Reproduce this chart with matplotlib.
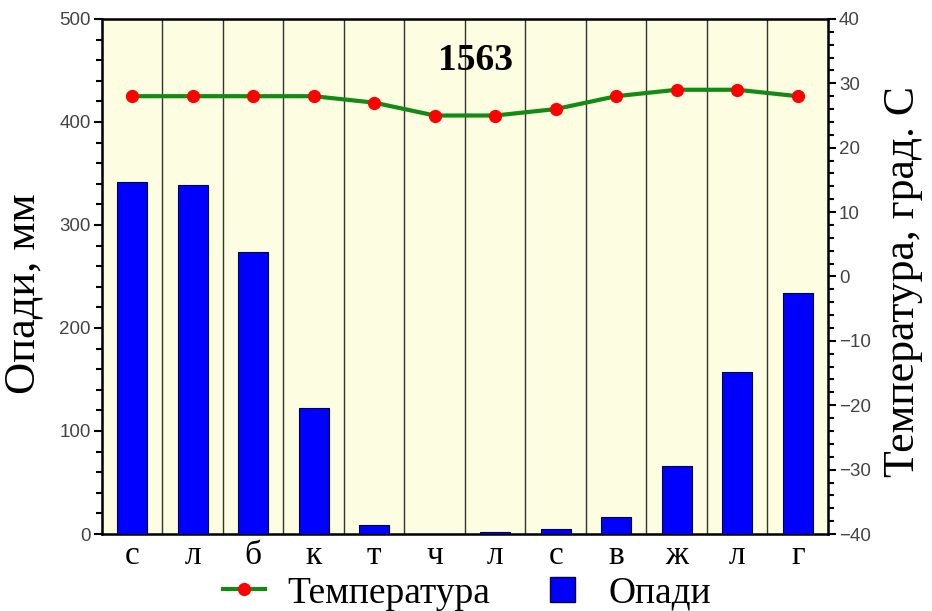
import numpy as np
import matplotlib.pyplot as plt
from matplotlib.ticker import MultipleLocator
from matplotlib.lines import Line2D
from matplotlib.patches import Patch

# data
months = ['с', 'л', 'б', 'к', 'т', 'ч', 'л', 'с', 'в', 'ж', 'л', 'г']
precip = [342, 339, 274, 122, 9, 0, 2, 5, 17, 66, 157, 234]
temp = [28, 28, 28, 28, 27, 25, 25, 26, 28, 29, 29, 28]
title = '1563'

serif = 'Liberation Serif'
sans = 'Liberation Sans'

fig = plt.figure(figsize=(9.32, 6.11), dpi=100)
ax = fig.add_axes([0.1094, 0.126, 0.779, 0.843])
ax.set_facecolor('#fdfde1')

x = np.arange(len(months))
ax.bar(x, precip, width=0.5, color='#0000ff', edgecolor='#000033', linewidth=0.8, zorder=3)

# vertical separators between months
for b in x[:-1] + 0.5:
    ax.axvline(b, color='#333333', linewidth=1.0, zorder=1)

ax.set_xlim(-0.5, len(months) - 0.5)
ax.set_ylim(0, 500)
ax.yaxis.set_major_locator(MultipleLocator(100))
ax.yaxis.set_minor_locator(MultipleLocator(20))
ax.set_xticks(x)
ax.set_xticklabels(months, fontfamily=serif, fontsize=24)
ax.tick_params(axis='x', length=0, pad=5)
ax.tick_params(axis='y', which='major', length=6, width=1.5, labelsize=13.5,
               labelcolor='#444444', pad=2)
ax.tick_params(axis='y', which='minor', length=4, width=1.5)
for lbl in ax.get_yticklabels():
    lbl.set_fontfamily(sans)
for s in ax.spines.values():
    s.set_linewidth(1.8)
ax.set_ylabel('Опади, мм', fontfamily=serif, fontsize=32)
ax.yaxis.set_label_coords(-0.08, 0.466)

ax2 = ax.twinx()
ax2.plot(x, temp, color='#138a13', linewidth=3, zorder=4)
ax2.plot(x, temp, 'o', color='#ff0000', markersize=8.5, zorder=5)
ax2.set_ylim(-40, 40)
ax2.yaxis.set_major_locator(MultipleLocator(10))
ax2.yaxis.set_minor_locator(MultipleLocator(2))
ax2.tick_params(axis='y', which='major', length=6, width=1.5, labelsize=13.5,
                labelcolor='#444444', pad=2)
ax2.tick_params(axis='y', which='minor', length=4, width=1.5)
for lbl in ax2.get_yticklabels():
    lbl.set_fontfamily(sans)
ax2.set_ylabel('Температура, град. С', fontfamily=serif, fontsize=31.5)
ax2.yaxis.set_label_coords(1.076, 0.491)

ax.text(0.514, 0.92, title, transform=ax.transAxes, ha='center', va='center',
        fontfamily=serif, fontsize=27, fontweight='bold', zorder=6)

# two legends so each entry gets its own spacing
leg_prop = {'family': serif, 'size': 27}
h_temp = Line2D([], [], color='#138a13', linewidth=3, marker='o',
                markerfacecolor='#ff0000', markeredgecolor='#ff0000', markersize=8.5)
fig.legend([h_temp], ['Температура'], loc='center left',
           bbox_to_anchor=(0.2393, 0.029), frameon=False, prop=leg_prop,
           handlelength=1.12, handletextpad=0.59, borderpad=0, borderaxespad=0)
h_prec = Patch(facecolor='#0000ff', edgecolor='#000033')
fig.legend([h_prec], ['Опади'], loc='center left',
           bbox_to_anchor=(0.590, 0.029), frameon=False, prop=leg_prop,
           handlelength=0.67, handleheight=0.67, handletextpad=0.88,
           borderpad=0, borderaxespad=0)

fig.savefig('out.png', dpi=100)
